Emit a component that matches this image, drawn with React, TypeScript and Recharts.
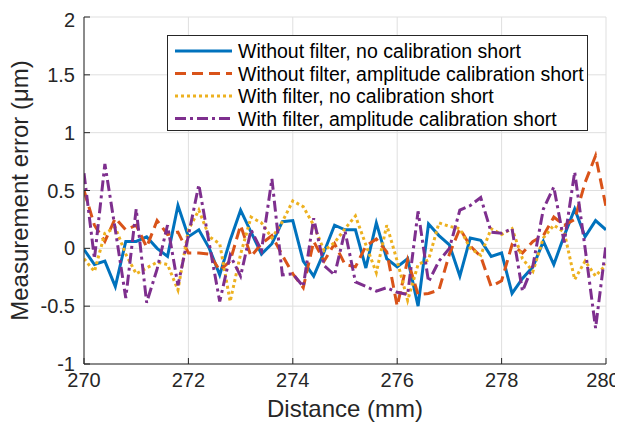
import React from 'react';
import { LineChart, Line, XAxis, YAxis, CartesianGrid, Legend } from 'recharts';

const distanceMm = [
  270.0, 270.2, 270.4, 270.6, 270.8, 271.0, 271.2, 271.4, 271.6, 271.8,
  272.0, 272.2, 272.4, 272.6, 272.8, 273.0, 273.2, 273.4, 273.6, 273.8,
  274.0, 274.2, 274.4, 274.6, 274.8, 275.0, 275.2, 275.4, 275.6, 275.8,
  276.0, 276.2, 276.4, 276.6, 276.8, 277.0, 277.2, 277.4, 277.6, 277.8,
  278.0, 278.2, 278.4, 278.6, 278.8, 279.0, 279.2, 279.4, 279.6, 279.8,
  280.0,
];

const seriesNames = [
  'Without filter, no calibration short',
  'Without filter, amplitude calibration short',
  'With filter, no calibration short',
  'With filter, amplitude calibration short',
];

const withoutFilterNoCal = [
  -0.01, -0.14, -0.11, -0.33, 0.06, 0.06, 0.10, 0.0, -0.07, 0.37,
  0.10, 0.16, 0.0, -0.23, 0.07, 0.33, 0.14, -0.05, 0.04, 0.23,
  0.24, -0.11, -0.24, -0.03, 0.20, 0.16, 0.16, -0.17, 0.22, -0.09,
  -0.16, -0.09, -0.50, 0.21, 0.11, 0.03, -0.24, 0.09, 0.07, -0.07,
  -0.04, -0.39, -0.26, -0.16, 0.06, -0.14, 0.11, 0.34, 0.10, 0.24,
  0.16,
];

const withoutFilterAmpCal = [
  0.50, 0.20, 0.06, 0.26, 0.16, 0.20, 0.01, 0.24, 0.12, 0.14,
  -0.04, -0.04, -0.05, -0.19, -0.11, 0.20, -0.07, 0.04, 0.11, -0.06,
  -0.22, -0.34, 0.06, -0.11, 0.04, -0.14, -0.16, 0.02, 0.08, -0.03,
  -0.50, -0.10, -0.40, -0.39, -0.36, -0.05, 0.17, 0.02, -0.07, -0.33,
  -0.28, 0.03, -0.04, 0.06, 0.11, 0.27, 0.20, 0.25, 0.57, 0.80,
  0.36,
];

const withFilterNoCal = [
  -0.09, -0.20, 0.13, 0.18, -0.05, -0.22, -0.17, -0.12, -0.14, -0.36,
  0.16, 0.33, 0.10, 0.04, -0.46, -0.05, 0.27, 0.22, 0.09, 0.23,
  0.41, 0.36, 0.20, -0.02, 0.05, 0.17, 0.28, 0.03, -0.21, 0.20,
  -0.11, -0.45, -0.14, -0.10, 0.22, 0.19, 0.17, 0.0, -0.06, 0.17,
  0.12, 0.17, -0.09, -0.20, 0.09, 0.20, 0.14, -0.27, -0.11, -0.24,
  -0.14,
];

const withFilterAmpCal = [
  0.65, -0.09, 0.73, 0.16, -0.43, 0.34, -0.47, -0.18, 0.20, -0.32,
  0.11, 0.55, 0.04, -0.46, -0.06, -0.24, 0.16, -0.02, 0.60, -0.23,
  -0.22, -0.33, 0.26, -0.15, -0.23, 0.15, -0.29, -0.33, -0.37, -0.34,
  -0.38, -0.40, 0.32, -0.29, -0.11, 0.0, 0.33, 0.37, 0.44, 0.14,
  0.13, 0.17, -0.37, -0.15, 0.34, 0.53, 0.05, 0.66, 0.0, -0.69,
  0.03,
];

const xTicks = [270, 272, 274, 276, 278, 280];
const yTicks = [-1, -0.5, 0, 0.5, 1, 1.5, 2];
const xTitle = 'Distance (mm)';
const yTitle = 'Measurement error (μm)';

const FONT = '"Liberation Sans", Arial, Helvetica, sans-serif';
const AXIS_COLOR = '#262626';
const LINE_W = 3;

const seriesStyles = [
  { key: 's0', color: '#0072BD', dash: undefined as string | undefined },
  { key: 's1', color: '#D95319', dash: '11 6' },
  { key: 's2', color: '#EDB120', dash: '3 3' },
  { key: 's3', color: '#7E2F8E', dash: '11 4 3 4' },
];

const allSeries = [withoutFilterNoCal, withoutFilterAmpCal, withFilterNoCal, withFilterAmpCal];

const data = distanceMm.map((d, i) => {
  const row: Record<string, number> = { x: d };
  allSeries.forEach((s, k) => {
    row[seriesStyles[k].key] = s[i];
  });
  return row;
});

const LegendBox = () => (
  <svg width={421} height={97} style={{ display: 'block' }}>
    <rect x={0.5} y={0.5} width={420} height={95} fill="#ffffff" stroke={AXIS_COLOR} strokeWidth={1} />
    {seriesNames.map((name, i) => {
      const cy = 16 + i * 22.5;
      const st = seriesStyles[i];
      return (
        <g key={name}>
          <line x1={8} x2={65} y1={cy} y2={cy} stroke={st.color} strokeWidth={LINE_W} strokeDasharray={st.dash} />
          <text x={71} y={cy + 7} fontSize={19.5} fontFamily={FONT} fill="#000000">
            {name}
          </text>
        </g>
      );
    })}
  </svg>
);

const YTitle = (props: any) => {
  const vb = props.viewBox || { x: 0, y: 9, width: 76, height: 347 };
  const cx = vb.x + 20;
  const cy = vb.y + vb.height / 2;
  return (
    <text
      x={cx}
      y={cy}
      transform={`rotate(-90, ${cx}, ${cy})`}
      textAnchor="middle"
      fontSize={24}
      fontFamily={FONT}
      fill={AXIS_COLOR}
    >
      {yTitle}
    </text>
  );
};

const XTitle = (props: any) => {
  const vb = props.viewBox || { x: 76, y: 356, width: 522, height: 63 };
  const cx = vb.x + vb.width / 2;
  const by = vb.y + 53;
  return (
    <text x={cx} y={by} textAnchor="middle" fontSize={24} fontFamily={FONT} fill={AXIS_COLOR}>
      {xTitle}
    </text>
  );
};

const XTick = (props: any) => {
  const { x, y, payload } = props;
  const isLast = payload.value === xTicks[xTicks.length - 1];
  return (
    <text
      x={isLast ? x - 3 : x}
      y={y + 15}
      textAnchor="middle"
      fontSize={20}
      fontFamily={FONT}
      fill={AXIS_COLOR}
    >
      {String(payload.value)}
    </text>
  );
};

const tickStyle = { fontSize: 20, fontFamily: FONT, fill: AXIS_COLOR };

export default function App() {
  return (
    <LineChart
      width={615}
      height={419}
      data={data}
      margin={{ top: 9, right: 17, left: 0, bottom: 0 }}
      style={{ background: '#ffffff', overflow: 'visible' }}
    >
      <CartesianGrid stroke="#dfdfdf" strokeWidth={1} verticalValues={xTicks} horizontalValues={yTicks} />
      <XAxis
        dataKey="x"
        type="number"
        domain={[270, 280]}
        ticks={xTicks}
        allowDataOverflow
        height={63}
        tick={<XTick />}
        tickSize={-6}
        tickMargin={14}
        stroke={AXIS_COLOR}
        axisLine={{ stroke: AXIS_COLOR, strokeWidth: 1 }}
        tickLine={{ stroke: AXIS_COLOR }}
        label={{ content: (p: any) => <XTitle {...p} /> }}
      />
      <XAxis
        xAxisId="top"
        dataKey="x"
        orientation="top"
        type="number"
        domain={[270, 280]}
        ticks={xTicks}
        allowDataOverflow
        height={0}
        tick={false}
        tickSize={-6}
        stroke={AXIS_COLOR}
        axisLine={{ stroke: AXIS_COLOR, strokeWidth: 1 }}
        tickLine={{ stroke: AXIS_COLOR }}
      />
      <YAxis
        type="number"
        domain={[-1, 2]}
        ticks={yTicks}
        allowDataOverflow
        width={76}
        tick={tickStyle}
        tickSize={-6}
        tickMargin={15}
        stroke={AXIS_COLOR}
        axisLine={{ stroke: AXIS_COLOR, strokeWidth: 1 }}
        tickLine={{ stroke: AXIS_COLOR }}
        label={{ content: (p: any) => <YTitle {...p} /> }}
      />
      <YAxis
        yAxisId="right"
        orientation="right"
        type="number"
        domain={[-1, 2]}
        ticks={yTicks}
        allowDataOverflow
        width={0}
        tick={false}
        tickSize={-6}
        stroke={AXIS_COLOR}
        axisLine={{ stroke: AXIS_COLOR, strokeWidth: 1 }}
        tickLine={{ stroke: AXIS_COLOR }}
      />
      {seriesStyles.map((st, k) => (
        <Line
          key={st.key}
          dataKey={st.key}
          name={seriesNames[k]}
          type="linear"
          stroke={st.color}
          strokeWidth={LINE_W}
          strokeDasharray={st.dash}
          dot={false}
          activeDot={false}
          isAnimationActive={false}
        />
      ))}
      <Legend
        layout="vertical"
        align="center"
        verticalAlign="middle"
        content={() => <LegendBox />}
        wrapperStyle={{ left: 159, top: 27, width: 421, height: 97 }}
      />
    </LineChart>
  );
}
